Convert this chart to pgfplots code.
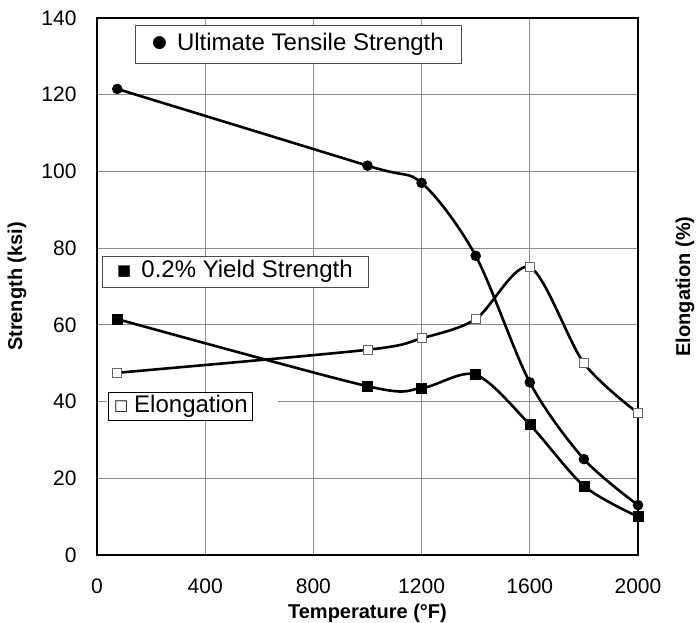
\documentclass[border=0pt]{standalone}
\usepackage{fontspec}
\setmainfont{Liberation Sans}
\newfontfamily\symfont{DejaVu Sans}
\usepackage{pgfplots}
\pgfplotsset{compat=1.18}

\begin{document}
\begin{tikzpicture}
\begin{axis}[
  name=ax,
  scale only axis, width=541pt, height=537pt,
  xmin=0, xmax=2000, ymin=0, ymax=140,
  xtick={0,400,...,2000}, ytick={0,20,...,140},
  grid=major, major grid style={black!45, line width=0.8pt},
  axis line style={line width=2.4pt},
  tick style={draw=none},
  tick label style={font=\fontsize{21}{25}\selectfont},
  /pgf/number format/assume math mode=true,
  /pgf/number format/1000 sep={},
  xticklabel style={anchor=north, yshift=-20pt},
  yticklabel style={anchor=east, xshift=-17pt},
  xlabel={\textbf{Temperature (°F)}},
  xlabel style={font=\fontsize{20}{24}\selectfont, anchor=north, at={(rel axis cs:0.5,0)}, yshift=-45pt},
  clip=false,
]
% legend-like annotation boxes
\node[fill=white, minimum width=171pt, minimum height=28pt, inner sep=0pt] at (axis cs:353,38.8) {};
\node[draw=black!70, line width=0.8pt, fill=white, minimum width=326pt, minimum height=38pt, inner sep=0pt, font=\fontsize{24}{28}\selectfont] at (axis cs:743,133.2) {\raisebox{2.5pt}{\symfont\fontsize{17}{20}\selectfont ●}\hspace{10pt}Ultimate Tensile Strength};
\node[draw=black!70, line width=0.8pt, fill=white, minimum width=266pt, minimum height=31pt, inner sep=0pt, font=\fontsize{24}{28}\selectfont] at (axis cs:510,73.9) {\raisebox{2pt}{\symfont\fontsize{15}{18}\selectfont ■}\hspace{10pt}0.2\% Yield Strength};
\node[draw=black, line width=0.8pt, fill=white, minimum width=144pt, minimum height=28pt, inner sep=0pt, font=\fontsize{24}{28}\selectfont] at (axis cs:310,38.8) {\raisebox{2pt}{\symfont\fontsize{15}{18}\selectfont □}\hspace{6pt}Elongation};

\addplot[black, line width=2.6pt, smooth, mark=*, mark size=5pt, mark options={fill=black, line width=0.5pt}] coordinates {
 (75,121.5) (1000,101.5) (1200,97) (1400,78) (1600,45) (1800,25) (2000,13)};
\addplot[black, line width=2.6pt, smooth, mark=square*, mark size=5pt, mark options={fill=black, line width=0.5pt}] coordinates {
 (75,61.5) (1000,44) (1200,43.5) (1400,47) (1600,34) (1800,18) (2000,10)};
\addplot[black, line width=2.6pt, smooth, mark=square*, mark size=4.5pt, mark options={fill=white, draw=black!60, line width=0.9pt}] coordinates {
 (75,47.5) (1000,53.5) (1200,56.5) (1400,61.5) (1600,75) (1800,50) (2000,37)};

\node[rotate=90, font=\bfseries\fontsize{20}{24}\selectfont] at ([xshift=-80pt]rel axis cs:0,0.5) {Strength (ksi)};
\node[rotate=90, font=\bfseries\fontsize{20}{24}\selectfont] at ([xshift=47pt]rel axis cs:1,0.5) {Elongation (\%)};
\end{axis}
\pgfresetboundingbox
\path[use as bounding box] ([xshift=-97pt,yshift=-68pt]ax.south west) rectangle ([xshift=58pt,yshift=18pt]ax.north east);
\end{tikzpicture}
\end{document}
